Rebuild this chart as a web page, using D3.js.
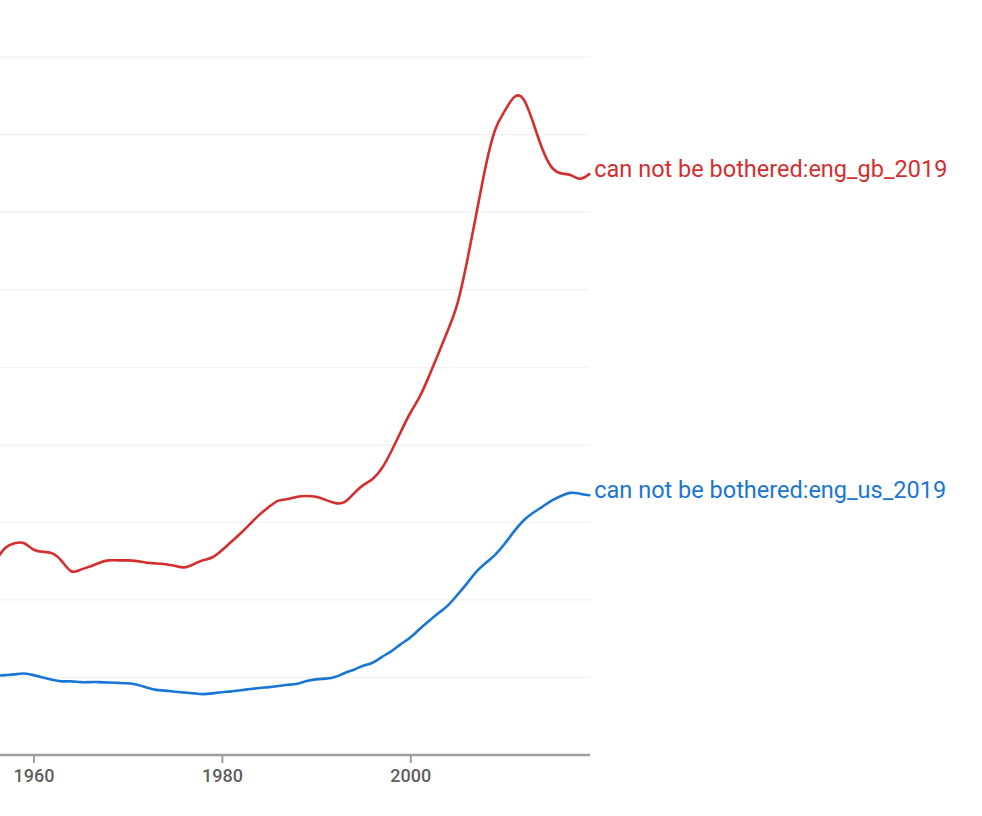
<!DOCTYPE html>
<html>
<head>
<meta charset="utf-8">
<script src="https://cdn.jsdelivr.net/npm/d3@7"></script>
<style>
  html, body { margin: 0; padding: 0; background: #fff; }
  svg { display: block; font-family: Roboto, "Noto Sans", sans-serif; }
</style>
</head>
<body>
<svg id="chart" width="982" height="816"></svg>
<script>
// ---- data ----
const years = [1956,1957,1958,1959,1960,1961,1962,1963,1964,1965,1966,1967,1968,1969,
  1970,1971,1972,1973,1974,1975,1976,1977,1978,1979,1980,1981,1982,1983,1984,1985,
  1986,1987,1988,1989,1990,1991,1992,1993,1994,1995,1996,1997,1998,1999,2000,2001,
  2002,2003,2004,2005,2006,2007,2008,2009,2010,2011,2012,2013,2014,2015,2016,2017,
  2018,2019];

const gbName = "can not be bothered:eng_gb_2019";
const gbValues = [2.51,2.67,2.73,2.73,2.65,2.62,2.60,2.50,2.37,2.39,2.43,2.48,2.51,2.51,
  2.51,2.50,2.48,2.47,2.46,2.44,2.42,2.46,2.51,2.55,2.64,2.75,2.86,2.98,3.10,3.20,
  3.28,3.30,3.33,3.34,3.33,3.29,3.25,3.26,3.37,3.48,3.56,3.70,3.92,4.17,4.41,4.62,
  4.89,5.18,5.48,5.82,6.35,6.97,7.59,8.06,8.30,8.48,8.46,8.17,7.82,7.58,7.50,7.48,
  7.43,7.49];

const usName = "can not be bothered:eng_us_2019";
const usValues = [1.02,1.03,1.04,1.05,1.03,1.00,0.97,0.95,0.95,0.94,0.94,0.94,0.935,0.93,
  0.925,0.905,0.87,0.84,0.83,0.815,0.805,0.795,0.785,0.795,0.81,0.82,0.835,0.85,0.865,0.875,
  0.89,0.905,0.92,0.955,0.975,0.985,1.005,1.055,1.10,1.15,1.19,1.265,1.34,1.43,1.515,1.625,
  1.73,1.83,1.93,2.065,2.21,2.36,2.475,2.58,2.72,2.88,3.02,3.12,3.20,3.28,3.34,3.38,
  3.37,3.35];

const xTickValues = [1960, 1980, 2000];
const gridValues = [1,2,3,4,5,6,7,8,9,10];

// ---- layout ----
const svg = d3.select("#chart");
const plotRight = 590;
const x = d3.scaleLinear().domain([1960, 2000]).range([33.5, 410.3]);
const y = d3.scaleLinear().domain([0, 10]).range([755, -20.5]);

const series = [
  { name: gbName, values: gbValues, color: "#d32f2f" },
  { name: usName, values: usValues, color: "#1976d2" }
];

// gridlines
svg.append("g").selectAll("line")
  .data(gridValues).join("line")
  .attr("x1", 0).attr("x2", plotRight)
  .attr("y1", d => y(d)).attr("y2", d => y(d))
  .attr("stroke", "#f1f1f1").attr("stroke-width", 1.2);

// x axis
const xAxis = d3.axisBottom(x).tickValues(xTickValues).tickFormat(d3.format("d"))
  .tickSizeOuter(0).tickSize(8).tickPadding(6);
const gx = svg.append("g").attr("transform", `translate(0,${y(0)})`).call(xAxis);
gx.select(".domain").remove();
gx.selectAll(".tick line").attr("stroke", "#9e9e9e").attr("stroke-width", 2);
gx.selectAll(".tick text").attr("fill", "#5f5f5f").attr("font-size", 18)
  .attr("font-weight", 500).attr("font-family", "Roboto, sans-serif");
gx.append("line").attr("x1", 0).attr("x2", plotRight).attr("y1", 0).attr("y2", 0)
  .attr("stroke", "#9e9e9e").attr("stroke-width", 2.5);

// lines
const line = d3.line()
  .x((d, i) => x(years[i]))
  .y(d => y(d))
  .curve(d3.curveNatural);

svg.append("g").selectAll("path")
  .data(series).join("path")
  .attr("d", s => line(s.values))
  .attr("fill", "none")
  .attr("stroke", s => s.color)
  .attr("stroke-width", 2.6)
  .attr("stroke-linejoin", "round")
  .attr("stroke-linecap", "round");

// end labels
svg.append("g").selectAll("text")
  .data(series).join("text")
  .attr("x", s => x(years[years.length - 1]) + 5)
  .attr("y", s => y(s.values[s.values.length - 1]) + 2.5)
  .attr("fill", s => s.color)
  .attr("font-size", 23.5)
  .text(s => s.name);
</script>
</body>
</html>
